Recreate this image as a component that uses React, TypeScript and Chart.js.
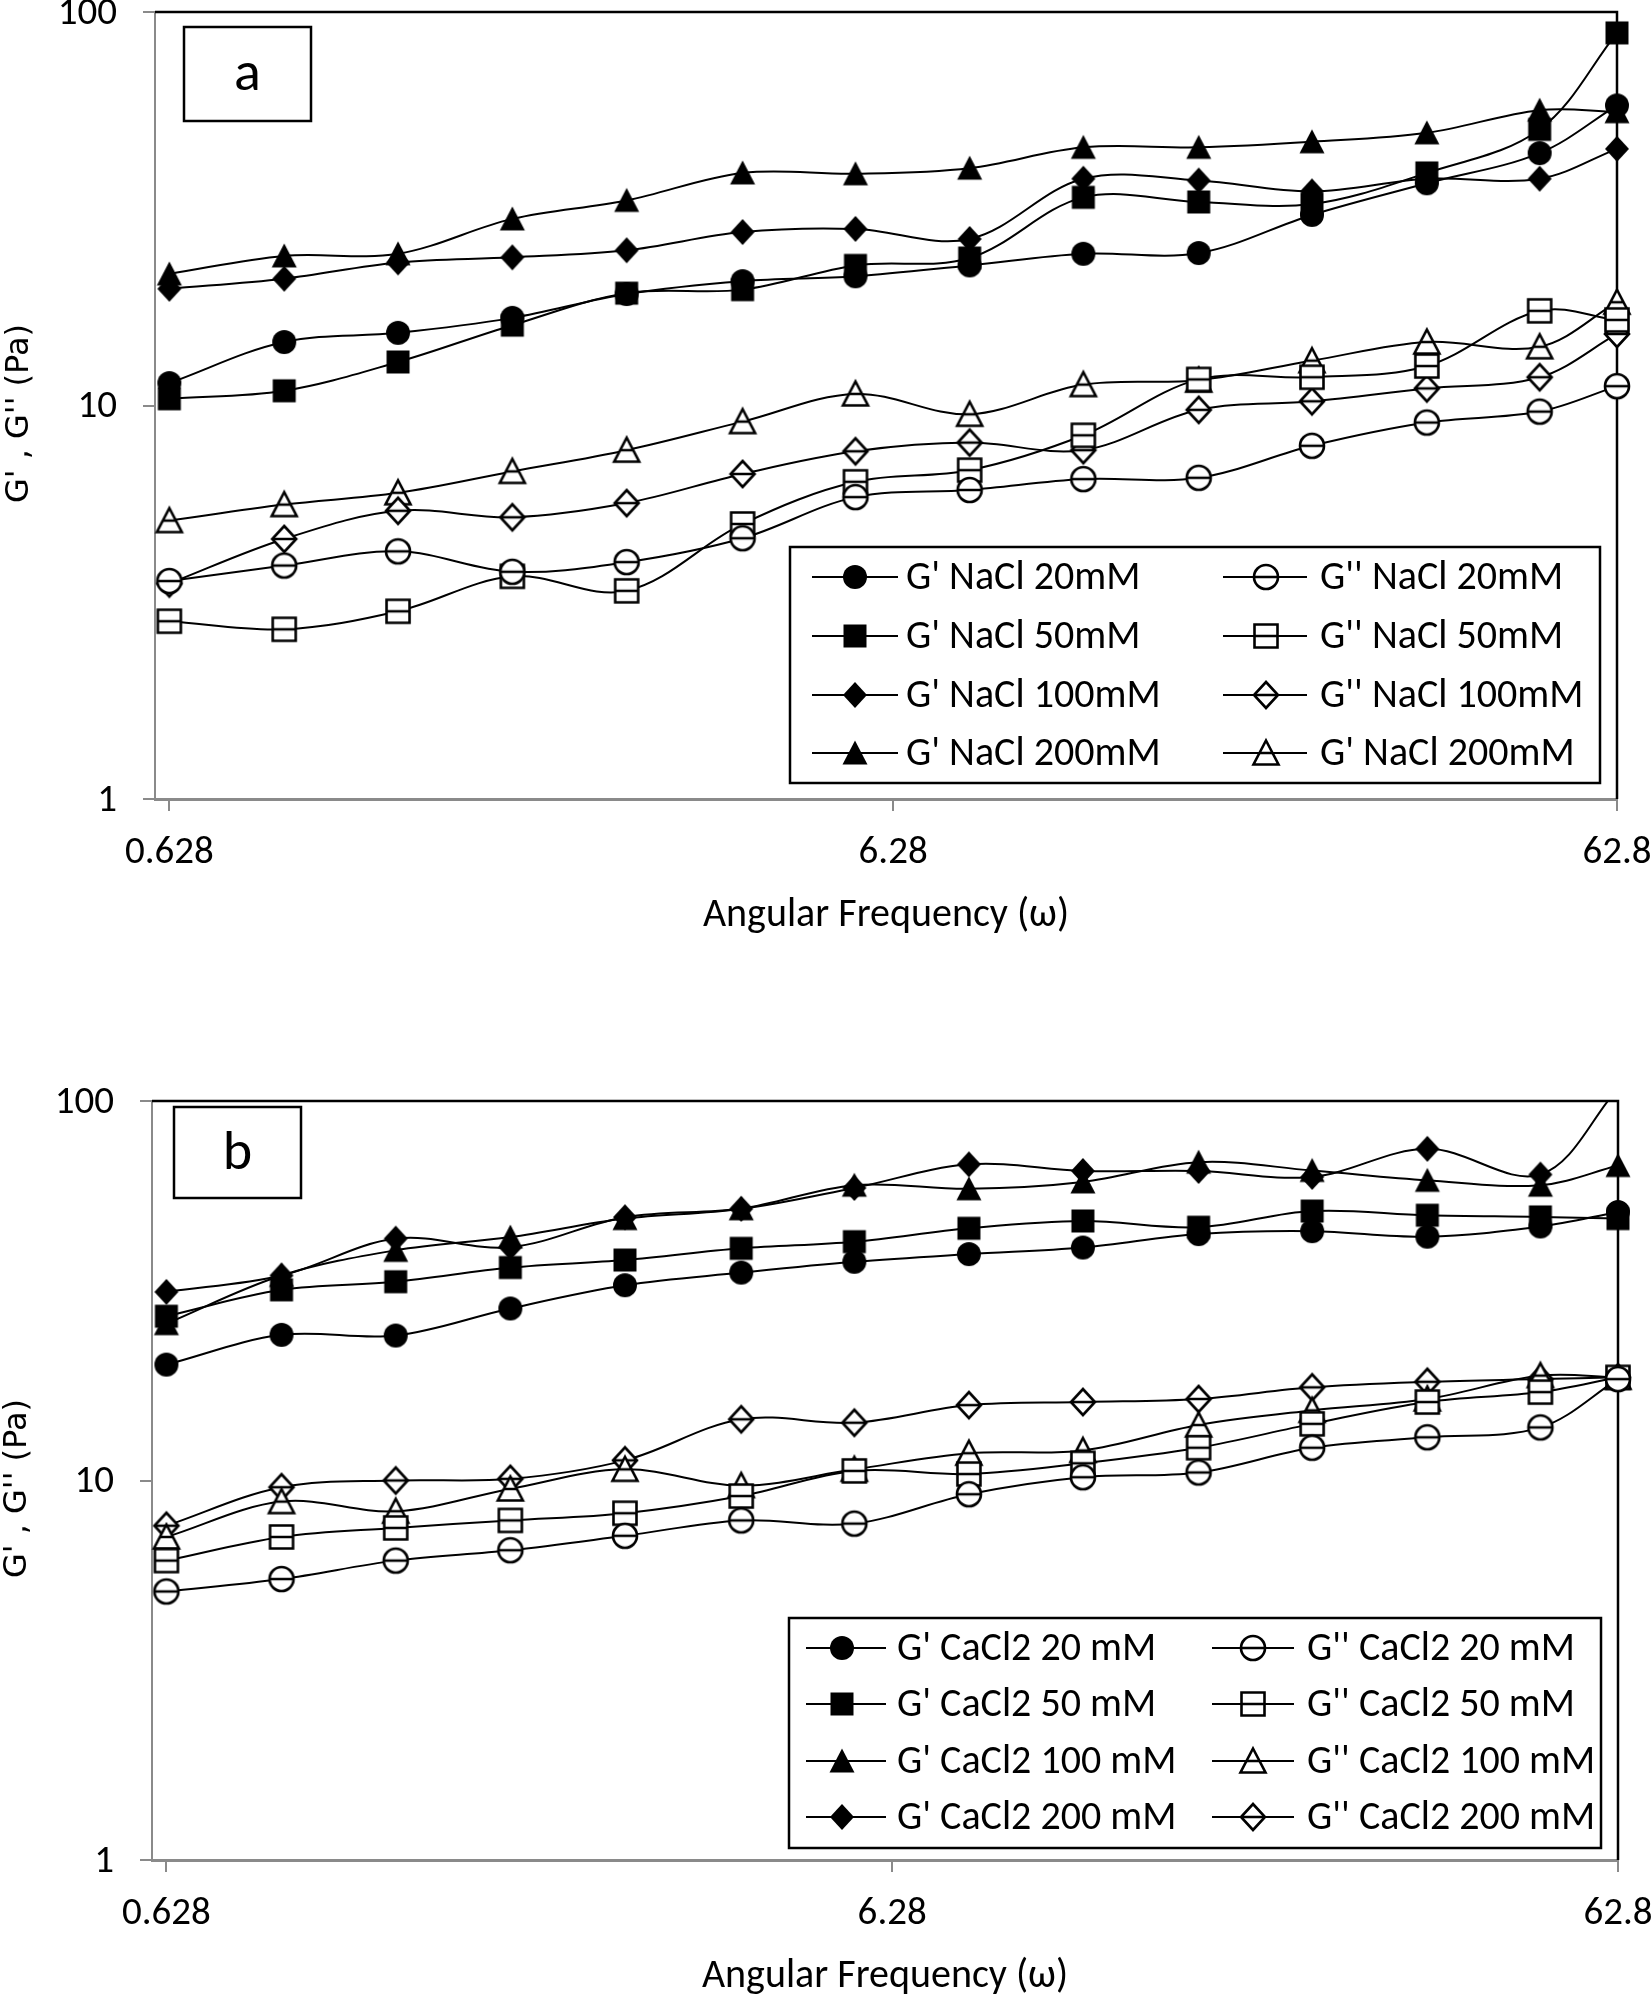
import React, { useEffect, useRef } from "react";
import { Chart, registerables } from "chart.js";

Chart.register(...registerables);

// ---------- data ----------
const omega = [0.628, 0.905, 1.3, 1.87, 2.69, 3.89, 5.57, 8.01, 11.5, 16.6, 23.8, 34.3, 49.1, 62.8];
const xTickValues = [0.628, 6.28, 62.8];
const xTickLabels = ["0.628", "6.28", "62.8"];
const yTickValues = [1, 10, 100];
const yTickLabels = ["1", "10", "100"];
const xTitle = "Angular Frequency (ω)";
const yTitle = "G' , G'' (Pa)";

// panel a (NaCl)
const naclLabels = [
  "G' NaCl 20mM", "G'' NaCl 20mM",
  "G' NaCl 50mM", "G'' NaCl 50mM",
  "G' NaCl 100mM", "G'' NaCl 100mM",
  "G' NaCl 200mM", "G' NaCl 200mM",
];
const naclShapes = ["circle", "circle", "rect", "rect", "rectRot", "rectRot", "triangle", "triangle"];
const naclGp20 = [11.4, 14.5, 15.3, 16.7, 19.2, 20.7, 21.3, 22.7, 24.3, 24.4, 30.5, 36.7, 43.8, 57.9];
const naclGpp20 = [3.58, 3.92, 4.26, 3.78, 4.0, 4.6, 5.85, 6.1, 6.5, 6.55, 7.9, 9.05, 9.65, 11.2];
const naclGp50 = [10.4, 10.9, 12.9, 16.0, 19.3, 19.7, 22.7, 23.7, 33.8, 32.9, 32.5, 39.0, 50.3, 88.5];
const naclGpp50 = [2.83, 2.7, 3.0, 3.68, 3.38, 5.0, 6.4, 6.85, 8.4, 11.65, 11.8, 12.6, 17.4, 16.5];
const naclGp100 = [19.8, 21.0, 23.1, 23.8, 24.8, 27.6, 28.1, 26.5, 37.7, 37.3, 35.0, 37.7, 37.7, 44.9];
const naclGpp100 = [3.53, 4.58, 5.4, 5.2, 5.65, 6.7, 7.65, 8.05, 7.7, 9.75, 10.25, 11.05, 11.8, 15.2];
const naclGp200 = [21.6, 24.0, 24.3, 29.8, 33.2, 39.0, 38.8, 40.1, 45.3, 45.3, 46.8, 49.3, 56.3, 55.8];
const naclGpp200 = [5.1, 5.6, 6.0, 6.8, 7.7, 9.1, 10.7, 9.5, 11.3, 11.6, 13.0, 14.5, 14.1, 18.3];

// panel b (CaCl2)
const caclLabels = [
  "G' CaCl2 20 mM", "G'' CaCl2 20 mM",
  "G' CaCl2 50 mM", "G'' CaCl2 50 mM",
  "G' CaCl2 100 mM", "G'' CaCl2 100 mM",
  "G' CaCl2 200 mM", "G'' CaCl2 200 mM",
];
const caclShapes = ["circle", "circle", "rect", "rect", "triangle", "triangle", "rectRot", "rectRot"];
const caclGp20 = [20.2, 24.2, 24.1, 28.4, 32.7, 35.3, 37.7, 39.5, 41.1, 44.6, 45.4, 43.9, 46.7, 51.0];
const caclGpp20 = [5.1, 5.5, 6.15, 6.55, 7.15, 7.85, 7.7, 9.2, 10.2, 10.5, 12.2, 13.0, 13.8, 18.5];
const caclGp50 = [27.1, 31.8, 33.4, 36.4, 38.1, 40.9, 42.6, 46.2, 48.3, 46.5, 51.3, 50.0, 49.5, 49.0];
const caclGpp50 = [6.15, 7.1, 7.5, 7.85, 8.2, 9.1, 10.6, 10.4, 11.1, 12.2, 14.1, 16.1, 17.1, 18.7];
const caclGp100 = [25.9, 34.7, 40.4, 43.8, 49.0, 52.0, 60.0, 58.7, 61.2, 69.0, 65.6, 61.8, 60.0, 67.6];
const caclGpp100 = [7.1, 8.8, 8.3, 9.5, 10.7, 9.7, 10.7, 11.8, 12.0, 14.0, 15.3, 16.4, 18.9, 18.7];
const caclGp200 = [31.4, 34.7, 43.4, 41.2, 49.4, 52.0, 59.0, 68.1, 65.4, 65.4, 63.1, 74.8, 64.0, 108];
const caclGpp200 = [7.6, 9.6, 10.0, 10.1, 11.3, 14.5, 14.2, 15.8, 16.1, 16.4, 17.6, 18.2, 18.5, 18.7];

const markerFilled = [true, false, true, false, true, false, true, false];

// ---------- styling ----------
const FONT = "Carlito, Calibri, Lato, sans-serif";
const AXIS_GREY = "#8a8a8a";

function shapePath(g: CanvasRenderingContext2D, shape: string, m: number) {
  g.beginPath();
  if (shape === "circle") g.arc(m, m, 12, 0, Math.PI * 2);
  else if (shape === "rect") g.rect(m - 11.5, m - 11.5, 23, 23);
  else if (shape === "rectRot") {
    g.moveTo(m, m - 13);
    g.lineTo(m + 12, m);
    g.lineTo(m, m + 13);
    g.lineTo(m - 12, m);
    g.closePath();
  } else {
    g.moveTo(m, m - 12.5);
    g.lineTo(m + 12.5, m + 11.5);
    g.lineTo(m - 12.5, m + 11.5);
    g.closePath();
  }
}

function makeMarker(shape: string, filled: boolean): HTMLCanvasElement {
  const s = 34;
  const c = document.createElement("canvas");
  c.width = s;
  c.height = s;
  const g = c.getContext("2d")!;
  const m = s / 2;
  g.strokeStyle = "#000";
  if (filled) {
    shapePath(g, shape, m);
    g.fillStyle = "#000";
    g.fill();
  } else {
    shapePath(g, shape, m);
    g.fillStyle = "#fff";
    g.fill();
    g.save();
    shapePath(g, shape, m);
    g.clip();
    g.beginPath();
    g.moveTo(0, m);
    g.lineTo(s, m);
    g.lineWidth = 2.5;
    g.stroke();
    g.restore();
    shapePath(g, shape, m);
    g.lineWidth = 2.6;
    g.stroke();
  }
  return c;
}

type Panel = {
  letter: string;
  width: number;
  height: number;
  pageTop: number;
  plot: { left: number; right: number; top: number; bottom: number };
  letterBox: [number, number, number, number];
  legendBox: [number, number, number, number];
  legendRows: number[];
  legendCols: { from: number; to: number; marker: number; text: number }[];
  labels: string[];
  shapes: string[];
  values: number[][];
  yTitleX: number;
};

const panelA: Panel = {
  letter: "a",
  width: 1652,
  height: 1000,
  pageTop: 0,
  plot: { left: 155, right: 1617, top: 12, bottom: 799 },
  letterBox: [184, 27, 127, 94],
  legendBox: [790, 547, 1600, 783],
  legendRows: [577, 636, 695, 753],
  legendCols: [
    { from: 812, to: 898, marker: 855, text: 906 },
    { from: 1223, to: 1307, marker: 1266, text: 1320 },
  ],
  labels: naclLabels,
  shapes: naclShapes,
  values: [naclGp20, naclGpp20, naclGp50, naclGpp50, naclGp100, naclGpp100, naclGp200, naclGpp200],
  yTitleX: 20,
};

const panelB: Panel = {
  letter: "b",
  width: 1652,
  height: 995,
  pageTop: 1000,
  plot: { left: 152, right: 1618, top: 101, bottom: 860 },
  letterBox: [174, 107, 127, 91],
  legendBox: [789, 618, 1601, 848],
  legendRows: [648, 704, 761, 817],
  legendCols: [
    { from: 806, to: 886, marker: 842, text: 897 },
    { from: 1212, to: 1294, marker: 1253, text: 1307 },
  ],
  labels: caclLabels,
  shapes: caclShapes,
  values: [caclGp20, caclGpp20, caclGp50, caclGpp50, caclGp100, caclGpp100, caclGp200, caclGpp200],
  yTitleX: 18,
};

function decorPlugin(p: Panel, markers: HTMLCanvasElement[]) {
  return {
    id: "decor",
    beforeDatasetsDraw(chart: any) {
      const { ctx, chartArea: a } = chart;
      ctx.save();
      ctx.strokeStyle = "#000";
      ctx.lineWidth = 2.5;
      ctx.beginPath();
      ctx.moveTo(a.left, a.top);
      ctx.lineTo(a.right, a.top);
      ctx.lineTo(a.right, a.bottom);
      ctx.stroke();
      ctx.restore();
    },
    afterDraw(chart: any) {
      const { ctx, chartArea: a } = chart;
      const xs = chart.scales.x;
      const ys = chart.scales.y;
      ctx.save();
      ctx.fillStyle = "#000";
      // tick labels
      ctx.font = `39px ${FONT}`;
      ctx.textAlign = "right";
      ctx.textBaseline = "middle";
      yTickValues.forEach((v, i) => ctx.fillText(yTickLabels[i], a.left - 38, ys.getPixelForValue(v) + 2));
      ctx.textAlign = "center";
      xTickValues.forEach((v, i) => ctx.fillText(xTickLabels[i], xs.getPixelForValue(v), a.bottom + 54));
      // axis titles
      ctx.font = `40px ${FONT}`;
      ctx.fillText(xTitle, (a.left + a.right) / 2, a.bottom + 117);
      ctx.save();
      ctx.translate(p.yTitleX, (a.top + a.bottom) / 2 + 8);
      ctx.rotate(-Math.PI / 2);
      ctx.font = `32px "DejaVu Sans", sans-serif`;
      ctx.textAlign = "center";
      ctx.textBaseline = "middle";
      ctx.fillText(yTitle, 0, 0);
      ctx.restore();
      // panel letter box
      const [bx, by, bw, bh] = p.letterBox;
      ctx.fillStyle = "#fff";
      ctx.fillRect(bx, by, bw, bh);
      ctx.strokeStyle = "#000";
      ctx.lineWidth = 2.5;
      ctx.strokeRect(bx, by, bw, bh);
      ctx.fillStyle = "#000";
      ctx.font = `56px ${FONT}`;
      ctx.textAlign = "center";
      ctx.textBaseline = "middle";
      ctx.fillText(p.letter, bx + bw / 2, by + bh / 2 + 2);
      // legend
      const [lx1, ly1, lx2, ly2] = p.legendBox;
      ctx.fillStyle = "#fff";
      ctx.fillRect(lx1, ly1, lx2 - lx1, ly2 - ly1);
      ctx.lineWidth = 2.5;
      ctx.strokeRect(lx1, ly1, lx2 - lx1, ly2 - ly1);
      ctx.font = `40px ${FONT}`;
      ctx.textAlign = "left";
      ctx.textBaseline = "middle";
      p.labels.forEach((label, i) => {
        const row = p.legendRows[Math.floor(i / 2)];
        const col = p.legendCols[i % 2];
        ctx.beginPath();
        ctx.lineWidth = 2;
        ctx.strokeStyle = "#000";
        ctx.moveTo(col.from, row);
        ctx.lineTo(col.to, row);
        ctx.stroke();
        const mk = markers[i];
        ctx.drawImage(mk, col.marker - mk.width / 2, row - mk.height / 2);
        ctx.fillStyle = "#000";
        ctx.fillText(label, col.text, row + 2);
      });
      ctx.restore();
    },
  };
}

function PanelChart({ p }: { p: Panel }) {
  const ref = useRef<HTMLCanvasElement | null>(null);
  useEffect(() => {
    const canvas = ref.current;
    if (!canvas) return;
    const markers = p.shapes.map((s, i) => makeMarker(s, markerFilled[i]));
    const datasets = p.labels.map((label, i) => ({
      label,
      data: omega.map((x, k) => ({ x, y: p.values[i][k] })),
      borderColor: "#000",
      backgroundColor: "#000",
      borderWidth: 2,
      tension: 0.35,
      fill: false,
      pointStyle: markers[i] as any,
      pointRadius: 12,
      pointHoverRadius: 12,
      clip: { left: false, right: false, top: 0, bottom: false } as any,
    }));
    const gridCommon = {
      display: true,
      drawOnChartArea: false,
      drawTicks: true,
      tickLength: 12,
      color: AXIS_GREY,
      lineWidth: 2,
    };
    const chart = new Chart(canvas, {
      type: "line",
      data: { datasets },
      options: {
        animation: false,
        responsive: false,
        maintainAspectRatio: false,
        devicePixelRatio: 1,
        events: [],
        layout: {
          autoPadding: false,
          padding: { left: 0, right: p.width - p.plot.right, top: p.plot.top, bottom: 0 },
        },
        plugins: { legend: { display: false }, tooltip: { enabled: false }, title: { display: false } },
        scales: {
          x: {
            type: "logarithmic",
            min: xTickValues[0],
            max: xTickValues[xTickValues.length - 1],
            afterBuildTicks: (s: any) => {
              s.ticks = xTickValues.map((v) => ({ value: v }));
            },
            afterFit: (s: any) => {
              s.height = p.height - p.plot.bottom;
            },
            ticks: { display: false },
            grid: gridCommon,
            border: { display: true, color: AXIS_GREY, width: 3 },
          },
          y: {
            type: "logarithmic",
            min: yTickValues[0],
            max: yTickValues[yTickValues.length - 1],
            afterBuildTicks: (s: any) => {
              s.ticks = yTickValues.map((v) => ({ value: v }));
            },
            afterFit: (s: any) => {
              s.width = p.plot.left;
            },
            ticks: { display: false },
            grid: gridCommon,
            border: { display: true, color: AXIS_GREY, width: 2 },
          },
        },
      } as any,
      plugins: [decorPlugin(p, markers)],
    });
    return () => chart.destroy();
  }, [p]);
  return (
    <canvas
      ref={ref}
      width={p.width}
      height={p.height}
      style={{ position: "absolute", left: 0, top: p.pageTop, width: p.width, height: p.height, display: "block" }}
    />
  );
}

export default function App() {
  return (
    <div style={{ position: "absolute", left: 0, top: 0, width: 1652, height: 1995, background: "#fff", overflow: "hidden" }}>
      <PanelChart p={panelA} />
      <PanelChart p={panelB} />
    </div>
  );
}
